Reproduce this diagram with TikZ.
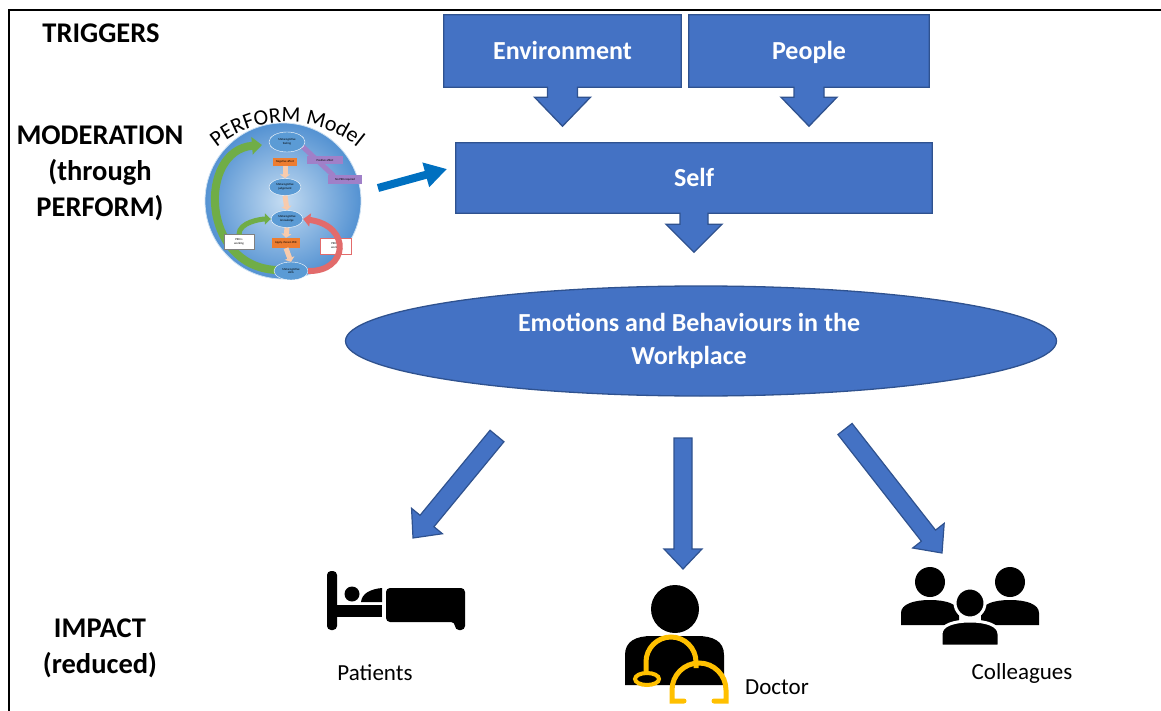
\documentclass[tikz,border=0pt]{standalone}
\usepackage{fontspec}
\setmainfont{Carlito}
\usepackage{tikz}
\usetikzlibrary{calc,arrows.meta,shapes.geometric,decorations.text,backgrounds}
\definecolor{boxblue}{RGB}{68,114,196}
\definecolor{boxedge}{RGB}{47,82,143}
\definecolor{arrowblue}{RGB}{0,112,192}
\definecolor{stethgold}{RGB}{255,192,0}
\definecolor{ovalblue}{RGB}{91,155,213}
\definecolor{perfgreen}{RGB}{112,173,71}
\definecolor{perfred}{RGB}{226,107,107}
\definecolor{perforange}{RGB}{237,125,49}
\definecolor{perfpeach}{RGB}{248,203,173}
\definecolor{perfpurple}{RGB}{160,128,200}

\tikzset{
  heading/.style={font=\fontsize{28.5}{36}\selectfont\bfseries, align=center},
  caption/.style={font=\fontsize{23}{28}\selectfont},
  bluebox/.style={rectangle, inner sep=0pt, text height=17pt, text depth=0pt, text=white,
    font=\fontsize{26}{33}\selectfont\bfseries},
  boxline/.style={fill=boxblue, draw=boxedge, line width=1.3pt},
  blockarrow/.style={fill=boxblue, draw=boxedge, line width=1.2pt},
  perfarrow/.style={arrowblue, line width=8pt, -{Triangle[width=24pt,length=22pt]}},
  perfoval/.style={ellipse, fill=ovalblue, draw=white, line width=0.4pt, inner sep=0pt, align=center},
  perfbox/.style={rectangle, inner sep=0.5pt, align=center},
}

% box with a down arrow underneath: node, stem half width, head half width, stem length, head length
\newcommand{\downcallout}[5]{%
  \begin{pgfonlayer}{background}
    \draw[boxline] (#1.north west) -- (#1.north east) -- (#1.south east)
      -- ($(#1.south)+(#2,0)$) -- ($(#1.south)+(#2,#4)$) -- ($(#1.south)+(#3,#4)$)
      -- ($(#1.south)+(0,#4+#5)$) -- ($(#1.south)+(-#3,#4)$) -- ($(#1.south)+(-#2,#4)$)
      -- ($(#1.south)+(-#2,0)$) -- (#1.south west) -- cycle;
  \end{pgfonlayer}}

% outlined block arrow: from, to, shaft half width, head half width, head length
\newcommand{\fatarrow}[5]{%
  \draw[blockarrow] let \p1=($(#2)-(#1)$), \n1={atan2(\y1,\x1)}, \n2={veclen(\x1,\y1)} in
    [shift={(#1)}, rotate=\n1]
    (0pt,-#3pt) -- (\n2-#5pt,-#3pt) -- (\n2-#5pt,-#4pt) -- (\n2,0pt)
    -- (\n2-#5pt,#4pt) -- (\n2-#5pt,#3pt) -- (0pt,#3pt) -- cycle;}

\begin{document}
\begin{tikzpicture}[x=1pt, y=-1pt, >=Stealth]
  \useasboundingbox (0,0) rectangle (1161,711);
  % frame
  \draw[line width=2.5pt] (9,711) -- (9,10) -- (1161,10);

  % row headings
  \node[heading] (trig) at (101,33) {TRIGGERS};
  \node[heading] (moder) at (100,173) {MODERATION\\(through\\PERFORM)};
  \node[heading] (impact) at (100,648) {IMPACT\\(reduced)};

  % triggers
  \node[bluebox, minimum width=237pt, minimum height=72pt] (env) at (562.5,51) {Environment};
  \node[bluebox, minimum width=240pt, minimum height=72pt] (people) at (809,51) {People};
  \downcallout{env}{15}{28}{10}{29}
  \downcallout{people}{15}{28}{10}{29}

  % self
  \node[bluebox, minimum width=476pt, minimum height=70pt] (self) at (694,178) {Self};
  \downcallout{self}{14}{28}{11}{28}

  % emotions
  \node[ellipse, boxline, minimum width=711pt, minimum height=110pt] (emo) at (701,341) {};
  \node[text=white, font=\fontsize{26}{33}\selectfont\bfseries, align=center] (emotext) at (689,341)
    {Emotions and Behaviours in the\\Workplace};

  % PERFORM model
  \node[circle, minimum size=156pt, inner sep=0pt, draw=white!70!ovalblue, line width=0.8pt,
    inner color={rgb,255:red,196;green,220;blue,242}, outer color={rgb,255:red,84;green,146;blue,210}] (model) at (283,201) {};
  \coordinate (arcc) at (287,232);
  \path[decorate, decoration={text along path, text align=center,
    text={|\fontsize{22}{22}\selectfont|PERFORM Model}}]
    (arcc) ++(140:110pt) arc[start angle=140, end angle=40, radius=110pt];
  \begin{scope}[font=\fontsize{3}{3.6}\selectfont]
    \draw[perfgreen, line width=8pt, -{Triangle[width=17pt,length=10pt]}]
      (276,270) .. controls (200,266) and (198,150) .. (262,145);
    \draw[perfpurple, line width=5pt] (302,146) -- (334,176);
    \node[perfoval, minimum width=36pt, minimum height=20pt] (mfeel) at (287,142) {Metacognitive\\feeling};
    \node[perfbox, fill=perforange, minimum width=24pt, minimum height=8pt] (negaff) at (285,162) {Negative affect};
    \node[perfoval, minimum width=32pt, minimum height=17pt] (mjudge) at (285,187) {Metacognitive\\judgement};
    \node[perfoval, minimum width=32pt, minimum height=17pt] (mknow) at (287,219) {Metacognitive\\knowledge};
    \node[perfbox, fill=perforange, minimum width=28pt, minimum height=10pt] (apply) at (286,243) {Apply chosen PEK};
    \node[perfoval, minimum width=34pt, minimum height=18pt] (mskill) at (291,271) {Metacognitive\\skills};
    \node[perfbox, fill=perfpurple, minimum width=36pt, minimum height=8pt] (posaff) at (325,160) {Positive affect};
    \node[perfbox, fill=perfpurple, minimum width=34pt, minimum height=9pt] (nopek) at (345,180) {No PEK required};
    \node[perfbox, fill=white, draw=gray, line width=0.4pt, minimum width=30pt, minimum height=15pt] (pekok) at (239,242) {PEK is\\working};
    \node[perfbox, fill=white, draw=perfred, line width=0.5pt, minimum width=31pt, minimum height=16pt] (pekno) at (336,246) {PEK not\\working};
    \foreach \a/\b in {negaff/mjudge, mjudge/mknow, mknow/apply, apply/mskill}
      \draw[perfpeach, line width=5pt, -{Triangle[width=10pt,length=4pt]}] (\a.south) -- (\b.north);
    \draw[perfgreen, line width=5pt, -{Triangle[width=11pt,length=6pt]}]
      (pekok.north) .. controls +(0,-12) and +(-10,0) .. (mknow.west);
    \draw[perfred, line width=6pt, -{Triangle[width=13pt,length=7pt]}]
      (mskill.east) .. controls (348,272) and (352,226) .. (mknow.east);
  \end{scope}
  \coordinate (perf-out) at (378,188);
  \coordinate (self-in) at (447,169);
  \draw[perfarrow] (perf-out) -- (self-in);

  % impact arrows
  \coordinate (pat-tail) at (497,436);
  \coordinate (pat-tip) at (413,538);
  \coordinate (doc-tail) at (683,438);
  \coordinate (doc-tip) at (683,569);
  \coordinate (col-tail) at (845,429);
  \coordinate (col-tip) at (942,553);
  \fatarrow{pat-tail}{pat-tip}{9}{20}{22}
  \fatarrow{doc-tail}{doc-tip}{9}{19}{20}
  \fatarrow{col-tail}{col-tip}{9}{20}{22}

  % patients (bed)
  \fill[rounded corners=4pt] (327,571) rectangle (337,630);
  \fill (336,605) rectangle (382,617);
  \fill (352,594) circle[radius=7.5pt];
  \fill (361,602) .. controls (362,593) and (371,589) .. (382,588) -- (382,602) -- cycle;
  \fill[rounded corners=4pt] (386,588) -- (465,588) -- (465,630) -- (455,630) -- (455,622) -- (386,622) -- cycle;
  \node[caption] (patients) at (375,673) {Patients};

  % doctor
  \fill (625,685) -- (625,655) .. controls (625,641) and (636,636) .. (652,636) -- (697,636)
    .. controls (713,636) and (724,641) .. (724,655) -- (724,685) -- cycle;
  \fill (675,609) circle[radius=24pt];
  \draw[stethgold, line width=5pt] (646,672) -- (646,662) arc[start angle=180, end angle=0, radius=25pt] -- (696,668);
  \draw[stethgold, line width=5pt, line cap=round] (684,701) -- (672,701) -- (672,690)
    arc[start angle=180, end angle=0, radius=27pt] -- (726,701) -- (714,701);
  \filldraw[fill=black, draw=stethgold, line width=4pt] (647,679) ellipse[x radius=12pt, y radius=6pt];
  \node[caption] (doctor) at (777,687) {Doctor};

  % colleagues
  \foreach \cx in {930,1010} {
    \fill (\cx,582) circle[radius=15pt];
    \fill (\cx-29,625) -- (\cx-29,613) .. controls (\cx-29,604) and (\cx-16,600) .. (\cx,600)
      .. controls (\cx+16,600) and (\cx+29,604) .. (\cx+29,613) -- (\cx+29,625) -- cycle;
  }
  \filldraw[draw=white, line width=3pt] (970,603) circle[radius=15pt];
  \filldraw[draw=white, line width=3pt] (941,646) -- (941,634) .. controls (941,625) and (954,621) .. (970,621)
    .. controls (986,621) and (999,625) .. (999,634) -- (999,646) -- cycle;
  \node[caption] (colleagues) at (1022,673) {Colleagues};
\end{tikzpicture}
\end{document}
